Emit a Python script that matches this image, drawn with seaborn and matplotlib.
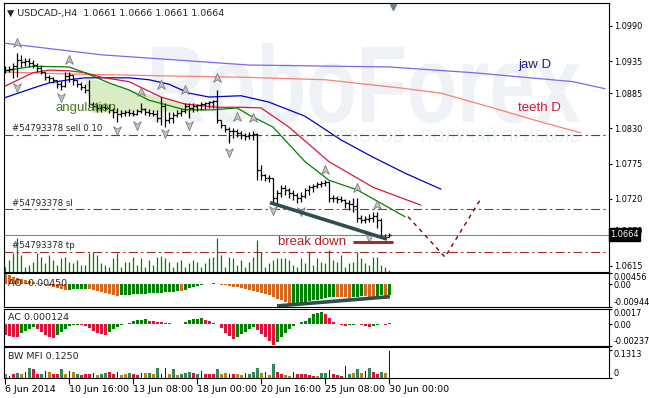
import numpy as np
import matplotlib
matplotlib.use("Agg")
import matplotlib.pyplot as plt
import seaborn as sns
from matplotlib.patches import Polygon, PathPatch
from matplotlib.path import Path
from matplotlib.textpath import TextPath
from matplotlib.font_manager import FontProperties
from matplotlib.transforms import Affine2D, blended_transform_factory

# ---------------- data (USDCAD H4) ----------------
first_open = 1.0924
closes = [1.0921, 1.0923, 1.0927, 1.0937, 1.0934, 1.0935, 1.0932, 1.0929, 1.0924, 1.0918,
          1.0910, 1.0909, 1.0906, 1.0899, 1.0896, 1.0912, 1.0913, 1.0906, 1.0899, 1.0895,
          1.0890, 1.0868, 1.0865, 1.0862, 1.0863, 1.0862, 1.0859, 1.0856, 1.0853, 1.0854,
          1.0856, 1.0854, 1.0853, 1.0857, 1.0860, 1.0856, 1.0854, 1.0853, 1.0846, 1.0865,
          1.0843, 1.0846, 1.0851, 1.0854, 1.0857, 1.0865, 1.0862, 1.0865, 1.0867, 1.0868,
          1.0870, 1.0871, 1.0873, 1.0843, 1.0835, 1.0829, 1.0826, 1.0826, 1.0823, 1.0820,
          1.0818, 1.0820, 1.0821, 1.0765, 1.0757, 1.0753, 1.0753, 1.0721, 1.0729, 1.0737,
          1.0734, 1.0729, 1.0726, 1.0721, 1.0724, 1.0734, 1.0738, 1.0740, 1.0743, 1.0745,
          1.0746, 1.0721, 1.0721, 1.0720, 1.0718, 1.0713, 1.0712, 1.0709, 1.0690, 1.0687,
          1.0688, 1.0690, 1.0693, 1.0687, 1.0661, 1.0661, 1.0664]
highs = [1.0927, 1.0927, 1.0932, 1.0948, 1.0945, 1.0940, 1.0940, 1.0937, 1.0932, 1.0929,
         1.0918, 1.0913, 1.0910, 1.0906, 1.0904, 1.0918, 1.0918, 1.0913, 1.0906, 1.0903,
         1.0899, 1.0906, 1.0871, 1.0870, 1.0868, 1.0870, 1.0868, 1.0862, 1.0862, 1.0859,
         1.0859, 1.0860, 1.0859, 1.0860, 1.0870, 1.0862, 1.0860, 1.0859, 1.0859, 1.0879,
         1.0870, 1.0856, 1.0856, 1.0859, 1.0860, 1.0870, 1.0870, 1.0870, 1.0868, 1.0871,
         1.0871, 1.0873, 1.0874, 1.0890, 1.0843, 1.0835, 1.0832, 1.0831, 1.0829, 1.0826,
         1.0823, 1.0824, 1.0826, 1.0823, 1.0773, 1.0759, 1.0757, 1.0753, 1.0734, 1.0742,
         1.0742, 1.0737, 1.0734, 1.0729, 1.0731, 1.0737, 1.0742, 1.0743, 1.0746, 1.0748,
         1.0749, 1.0748, 1.0726, 1.0724, 1.0724, 1.0720, 1.0718, 1.0721, 1.0721, 1.0695,
         1.0693, 1.0696, 1.0699, 1.0699, 1.0690, 1.0665, 1.0666]
lows = [1.0917, 1.0918, 1.0909, 1.0910, 1.0926, 1.0927, 1.0926, 1.0924, 1.0918, 1.0915,
        1.0906, 1.0903, 1.0901, 1.0893, 1.0890, 1.0895, 1.0903, 1.0898, 1.0895, 1.0890,
        1.0885, 1.0863, 1.0859, 1.0856, 1.0856, 1.0857, 1.0854, 1.0846, 1.0840, 1.0848,
        1.0849, 1.0849, 1.0849, 1.0851, 1.0854, 1.0851, 1.0849, 1.0849, 1.0840, 1.0835,
        1.0832, 1.0838, 1.0838, 1.0848, 1.0849, 1.0854, 1.0846, 1.0856, 1.0857, 1.0859,
        1.0860, 1.0862, 1.0862, 1.0838, 1.0831, 1.0824, 1.0807, 1.0815, 1.0817, 1.0813,
        1.0812, 1.0813, 1.0812, 1.0749, 1.0749, 1.0748, 1.0746, 1.0713, 1.0713, 1.0723,
        1.0726, 1.0721, 1.0718, 1.0713, 1.0715, 1.0721, 1.0726, 1.0731, 1.0737, 1.0738,
        1.0740, 1.0715, 1.0715, 1.0713, 1.0715, 1.0706, 1.0703, 1.0699, 1.0684, 1.0682,
        1.0682, 1.0684, 1.0684, 1.0674, 1.0658, 1.0659, 1.0661]
volumes = [500, 1200, 1900, 3400, 1700, 500, 700, 1000, 1900, 1500,
           900, 1700, 1200, 700, 1400, 1500, 1000, 900, 1200, 700,
           700, 1900, 2000, 1700, 900, 700, 500, 1400, 1900, 500,
           1000, 1000, 1500, 700, 1400, 500, 1200, 700, 1500, 1600,
           1400, 1000, 500, 1000, 1200, 500, 900, 1200, 1000, 500,
           900, 1400, 1500, 3400, 1700, 500, 1500, 1400, 700, 1200,
           500, 1000, 1500, 3200, 2000, 500, 900, 1200, 1400, 1400,
           1400, 1200, 700, 500, 1400, 900, 2000, 700, 1400, 1000,
           900, 2200, 1200, 1000, 1700, 500, 900, 1000, 2000, 1400,
           900, 700, 1500, 1500, 700, 500, 200]

# Alligator (H4) and Alligator (D1) lines: bar index -> value
jaw_idx = [0, 7, 11, 16, 20, 31, 36, 41, 46, 51, 59, 66, 75, 84, 92, 100, 109]
jaw = [1.0878, 1.0893, 1.0901, 1.0906, 1.0909, 1.0909, 1.0906, 1.0899, 1.0885, 1.0879,
       1.0881, 1.0871, 1.0849, 1.0812, 1.0785, 1.0760, 1.0735]
teeth_idx = [0, 7, 11, 16, 20, 24, 31, 39, 45, 53, 59, 64, 71, 81, 92, 104]
teeth = [1.0896, 1.0917, 1.0921, 1.0920, 1.0917, 1.0910, 1.0903, 1.0879, 1.0868, 1.0863,
         1.0863, 1.0862, 1.0832, 1.0778, 1.0738, 1.0710]
lips_idx = [0, 7, 16, 20, 26, 31, 36, 45, 52, 58, 61, 67, 75, 81, 88, 94, 100]
lips = [1.0920, 1.0927, 1.0926, 1.0917, 1.0901, 1.0890, 1.0874, 1.0859, 1.0859, 1.0862,
        1.0851, 1.0832, 1.0778, 1.0749, 1.0734, 1.0713, 1.0692]
jaw_d_idx = [0, 24, 61, 96, 117, 142, 150]
jaw_d = [1.0963, 1.0945, 1.0929, 1.0926, 1.0917, 1.0903, 1.0892]
teeth_d_idx = [0, 16, 40, 59, 80, 99, 109, 122, 134, 144]
teeth_d = [1.0918, 1.0915, 1.0912, 1.0910, 1.0906, 1.0893, 1.0885, 1.0862, 1.0840, 1.0823]

# fractals
frac_up_idx = [3, 16, 34, 39, 45, 53, 58, 62, 80, 88, 93]
frac_up = [1.0963, 1.0937, 1.0887, 1.0898, 1.0890, 1.0909, 1.0848, 1.0846, 1.0765, 1.0737, 1.0710]
frac_dn_idx = [3, 14, 28, 33, 40, 46, 56, 67, 74, 91]
frac_dn = [1.0895, 1.0879, 1.0828, 1.0835, 1.0823, 1.0835, 1.0793, 1.0703, 1.0701, 1.0661]

# order levels
sell_level = 1.0820
sl_level = 1.0704
tp_level = 1.0637
bid = 1.0664

# hand-drawn objects
trend_x = [66.25, 95.5]
trend_y = [1.0714, 1.0657]
break_x = [87, 97]
break_y = [1.06525, 1.06525]
proj_x = [100.75, 110, 118.75]
proj_y = [1.0692, 1.0629, 1.0718]
angul_x = [20, 51.25, 21.75]
angul_y = [1.0910, 1.0857, 1.0854]

# Awesome oscillator
ao = [0.0042, 0.0036, 0.0031, 0.0026, 0.0022, 0.0018, 0.0014, 0.0010, 0.0006, 0.0003,
      -0.0004, -0.0008, -0.0012, -0.0016, -0.0020, -0.0024,
      -0.0023, -0.0022, -0.0021, -0.0020, -0.0019,
      -0.0021, -0.0024, -0.0027, -0.0031, -0.0035, -0.0039, -0.0044, -0.0048,
      -0.0047, -0.0045, -0.0044, -0.0042, -0.0041, -0.0040, -0.0039, -0.0038, -0.0037,
      -0.0036, -0.0035, -0.0034, -0.0032, -0.0031, -0.0029,
      -0.0030,
      -0.0024, -0.0018, -0.0012, -0.0007, -0.0003,
      0.0001, 0.0002, 0.0003,
      0.0002,
      -0.0002, -0.0005, -0.0008, -0.0011, -0.0014, -0.0017, -0.0020, -0.0024, -0.0028,
      -0.0032, -0.0037, -0.0042, -0.0047, -0.0053, -0.0060, -0.0067, -0.0075, -0.0084,
      -0.0082, -0.0079, -0.0076, -0.0073, -0.0070, -0.0067, -0.0064, -0.0061, -0.0058,
      -0.0055, -0.0052,
      -0.0053, -0.0054, -0.0055, -0.0056,
      -0.0054, -0.0052, -0.0050,
      -0.0051, -0.0052, -0.0053,
      -0.0050, -0.0047,
      -0.0048,
      -0.0045]
ao_trend_x = [68, 96.25]
ao_trend_y = [-0.0090, -0.0052]

# Accelerator oscillator
ac = [-0.0012, -0.0013, -0.00135, -0.0014, -0.00095, -0.0007, -0.0005, -0.0003, -0.0005, -0.0008,
      -0.0012, -0.0014, -0.0015, -0.0012, -0.0008, -0.0005, -0.0002, -0.0001, -0.00005, -0.0001,
      -0.0002, -0.0004, -0.0007, -0.0009, -0.0011, -0.00115, -0.0008, -0.0005, -0.0003, -0.0001,
      0.0001, 0.0002, 0.0004, 0.00045, 0.0005, 0.00055, 0.0004, 0.00035, 0.0003, 0.00025,
      0.0002, 0.00015, 0.0001, 0.00005, 0.0000, 0.0003, 0.0005, 0.0006, 0.00065, 0.0007,
      0.0005, 0.0004, 0.0002, 0.0000, -0.0004, -0.0009, -0.0013, -0.0016, -0.0014, -0.0011,
      -0.0008, -0.0005, -0.0003, -0.0006, -0.0010, -0.0014, -0.0018, -0.0023, -0.0019, -0.0014,
      -0.0009, -0.0005, -0.0002, 0.0001, 0.0003, 0.0004, 0.0007, 0.0011, 0.0013, 0.0014,
      0.0011, 0.0007, 0.0003, 0.0001, -0.0001, -0.0002, -0.0001, -0.00005, 0.0000, -0.0001,
      -0.0002, -0.0003, -0.0002, -0.0001, 0.0000, -0.00005, 0.000124]

# Bill Williams market facilitation index (value, colour code)
mfi = [0.017, 0.010, 0.020, 0.023, 0.020, 0.030, 0.045, 0.042, 0.017, 0.020,
       0.033, 0.027, 0.020, 0.020, 0.042, 0.020, 0.033, 0.027, 0.020, 0.013,
       0.020, 0.017, 0.025, 0.013, 0.020, 0.023, 0.027, 0.017, 0.030, 0.013,
       0.017, 0.023, 0.020, 0.013, 0.025, 0.023, 0.023, 0.017, 0.048, 0.020,
       0.045, 0.020, 0.040, 0.013, 0.020, 0.023, 0.027, 0.023, 0.020, 0.033,
       0.020, 0.020, 0.017, 0.040, 0.017, 0.023, 0.020, 0.017, 0.017, 0.013,
       0.023, 0.020, 0.027, 0.048, 0.023, 0.030, 0.013, 0.067, 0.030, 0.020,
       0.013, 0.010, 0.030, 0.020, 0.017, 0.020, 0.013, 0.010, 0.010, 0.023,
       0.023, 0.037, 0.020, 0.013, 0.010, 0.057, 0.017, 0.023, 0.042, 0.023,
       0.033, 0.047, 0.030, 0.020, 0.027, 0.023, 0.125]
mfi_kind = ("kupgbugppg" "ubppgbubgp" "ppubggppub" "bgppubgbgu" "ubgbgggpgu"
            "pppgbbupbb" "ugggbubgpp" "bbupppppbg" "gupppugbgb" "ugppgbu")

date_idx = [0, 16, 32, 48, 64, 80, 96]
date_labels = ["6 Jun 2014", "10 Jun 16:00", "13 Jun 08:00", "18 Jun 00:00",
               "20 Jun 16:00", "25 Jun 08:00", "30 Jun 00:00"]
price_ticks = [1.0990, 1.0935, 1.0885, 1.0830, 1.0775, 1.0720, 1.0670, 1.0615]

# ---------------- styling ----------------
sns.set_theme(style="white")
plt.rcParams['font.family'] = ['DejaVu Sans']
plt.rcParams['axes.linewidth'] = 0.8
plt.rcParams['axes.unicode_minus'] = False

GREEN = '#008000'
ORANGE = '#d2691e'
RED = '#dc143c'
LBL = 5.9
W, H = 649, 398

fig = plt.figure(figsize=(W / 100, H / 100), dpi=100, facecolor='white')


def rect(top, bottom):
    return [4 / W, 1 - bottom / H, 605 / W, (bottom - top) / H]


ax = fig.add_axes(rect(3, 272))
ax_ao = fig.add_axes(rect(273, 307))
ax_ac = fig.add_axes(rect(309, 346))
ax_mfi = fig.add_axes(rect(347, 378))
panels = [ax, ax_ao, ax_ac, ax_mfi]

n = len(closes)
idx = np.arange(n)
opens = [first_open] + closes[:-1]

# watermark
fp = FontProperties(family='Liberation Sans', weight='bold')
tp = TextPath((0, 0), 'RoboForex', size=1, prop=fp)
ext = tp.get_extents()
wm_tr = (Affine2D().translate(-ext.x0, 0).scale(428 / ext.width / W, 79 / ext.y1 / H)
         .translate(152 / W, (H - 122) / H) + fig.transFigure)
ax.add_patch(PathPatch(tp, transform=wm_tr, facecolor='#eef1f5', edgecolor='none', zorder=0.2))
ax.text(580 / W, 1 - 137 / H, "ИСПОЛЬЗУЙ РОБОТОВ – ПОЛУЧАЙ ПРИБЫЛЬ", transform=fig.transFigure,
        ha='right', va='center', fontsize=11, color='#eef1f5', zorder=0.3)

# angulation area
ax.add_patch(Polygon(list(zip(angul_x, angul_y)), closed=True, facecolor='#d9ecc4',
                     edgecolor='none', zorder=0.5))

# volume in the price window
axv = ax.twinx()
axv.vlines(idx, 0, volumes, color=GREEN, lw=0.9)
axv.set_ylim(0, 26900)
axv.set_yticks([])
for s in axv.spines.values():
    s.set_visible(False)

# order lines
ax.axhline(sell_level, color=GREEN, lw=0.8, ls=(0, (8, 3, 2, 3)), zorder=1)
ax.axhline(sl_level, color='#a52a2a', lw=0.8, ls=(0, (8, 3, 2, 3)), zorder=1)
ax.axhline(tp_level, color='#a52a2a', lw=0.8, ls=(0, (8, 3, 2, 3)), zorder=1)
ax.axhline(bid, color='#778899', lw=0.8, zorder=1)

# alligators
sns.lineplot(x=jaw_d_idx, y=jaw_d, ax=ax, color='#7b68ee', lw=0.9, zorder=2)
sns.lineplot(x=teeth_d_idx, y=teeth_d, ax=ax, color='#fa8072', lw=0.9, zorder=2)
sns.lineplot(x=jaw_idx, y=jaw, ax=ax, color='#0000cd', lw=0.9, zorder=2)
sns.lineplot(x=teeth_idx, y=teeth, ax=ax, color='#dc143c', lw=0.9, zorder=2)
sns.lineplot(x=lips_idx, y=lips, ax=ax, color='#008000', lw=0.9, zorder=2)

# OHLC bars
ax.vlines(idx, lows, highs, color='black', lw=0.9, zorder=3)
ax.hlines(opens, idx - 0.5, idx, color='black', lw=0.9, zorder=3)
ax.hlines(closes, idx, idx + 0.5, color='black', lw=0.9, zorder=3)

# fractals
up_arrow = Path([(0, 1), (0.75, -0.75), (0, -0.25), (-0.75, -0.75), (0, 1)],
                [Path.MOVETO, Path.LINETO, Path.LINETO, Path.LINETO, Path.CLOSEPOLY])
dn_arrow = Path([(0, -1), (0.75, 0.75), (0, 0.25), (-0.75, 0.75), (0, -1)],
                [Path.MOVETO, Path.LINETO, Path.LINETO, Path.LINETO, Path.CLOSEPOLY])
ax.scatter(frac_up_idx, frac_up, marker=up_arrow, s=55, facecolor='#c4c4c4',
           edgecolor='#6e6e6e', linewidths=0.5, zorder=4)
ax.scatter(frac_dn_idx, frac_dn, marker=dn_arrow, s=55, facecolor='#c4c4c4',
           edgecolor='#6e6e6e', linewidths=0.5, zorder=4)

# drawn objects
ax.plot(trend_x, trend_y, color='#2f4f4f', lw=2.6, solid_capstyle='butt', zorder=5)
ax.plot(break_x, break_y, color='#a52a2a', lw=2.2, solid_capstyle='butt', zorder=5)
ax.plot(proj_x, proj_y, color='#8b0000', lw=1.0, ls=(0, (3, 3)), zorder=5)

ax.text(68.25, 1.0652, "break down", fontsize=9.5, family='Liberation Sans', color='#b22222',
        ha='left', va='center', zorder=6)
ax.text(12.5, 1.0862, "angulation", fontsize=9.5, family='Liberation Sans', color='#467a1c',
        ha='left', va='center', zorder=6)
ax.text(128.25, 1.0929, "jaw D", fontsize=9.5, family='Liberation Sans', color='#1c1c8c',
        ha='left', va='center', zorder=6)
ax.text(128.25, 1.0862, "teeth D", fontsize=9.5, family='Liberation Sans', color='#dc143c',
        ha='left', va='center', zorder=6)
ax.text(1.75, 1.0830, "#54793378 sell 0.10", fontsize=6.2, ha='left', va='center', zorder=6)
ax.text(1.75, 1.0713, "#54793378 sl", fontsize=6.2, ha='left', va='center', zorder=6)
ax.text(1.75, 1.0647, "#54793378 tp", fontsize=6.2, ha='left', va='center', zorder=6)
ax.text(0.005, 0.963, "▼ USDCAD-,H4  1.0661 1.0666 1.0661 1.0664", transform=ax.transAxes,
        fontsize=6.8, ha='left', va='center', zorder=6)
ax.plot([97], [0.985], marker='v', ms=5, color='#708090',
        transform=blended_transform_factory(ax.transData, ax.transAxes), clip_on=False, zorder=6)

ax.set_ylim(1.06056, 1.10259)
ax.set_yticks(price_ticks)
ax.set_yticklabels([f"{v:.4f}" for v in price_ticks])
ax.text(1.002, bid, f"{bid:.4f}", transform=blended_transform_factory(ax.transAxes, ax.transData),
        ha='left', va='center', fontsize=LBL, color='white', zorder=10,
        bbox=dict(boxstyle='square,pad=0.2', fc='black', ec='black'))

# AO
ao_cols = [ORANGE] + [GREEN if ao[i] > ao[i - 1] else ORANGE for i in range(1, n)]
ax_ao.bar(idx, ao, width=0.75, color=ao_cols, linewidth=0)
ax_ao.plot(ao_trend_x, ao_trend_y, color='#2f4f4f', lw=2.6, solid_capstyle='butt')
ax_ao.set_ylim(-0.00944, 0.00456)
ax_ao.set_yticks([0.00456, 0.0, -0.00944])
ax_ao.set_yticklabels(['0.00456', '0.00', '-0.00944'])
ax_ao.text(0.007, 0.7, "AO -0.00450", transform=ax_ao.transAxes, fontsize=6.8, va='center')

# AC
ac_cols = [RED] + [GREEN if ac[i] > ac[i - 1] else RED for i in range(1, n)]
ax_ac.bar(idx, ac, width=0.75, color=ac_cols, linewidth=0)
ax_ac.set_ylim(-0.00237, 0.0017)
ax_ac.set_yticks([0.0017, 0.0, -0.00237])
ax_ac.set_yticklabels(['0.0017', '0.00', '-0.00237'])
ax_ac.text(0.007, 0.76, "AC 0.000124", transform=ax_ac.transAxes, fontsize=6.8, va='center')

# BW MFI
kind_col = {'k': '#808080', 'u': '#0000ff', 'p': '#dc143c', 'g': '#2e8b57', 'b': '#b8860b'}
mfi_cols = [kind_col[k] for k in mfi_kind]
mfi_w = [0.25 if k == 'u' else 0.75 for k in mfi_kind]
ax_mfi.bar(idx, mfi, width=mfi_w, color=mfi_cols, linewidth=0)
ax_mfi.set_ylim(0, 0.145)
ax_mfi.set_yticks([0.1313, 0.0])
ax_mfi.set_yticklabels(['0.1313', '0'])
ax_mfi.text(0.007, 0.68, "BW MFI 0.1250", transform=ax_mfi.transAxes, fontsize=6.8, va='center')

for a in panels:
    a.set_xlim(-0.25, 151)
    a.set_facecolor('white')
    a.yaxis.tick_right()
    a.tick_params(axis='y', direction='out', length=2.5, width=0.8, pad=0.8,
                  labelsize=LBL, colors='black', right=True, left=False)
    a.tick_params(axis='x', bottom=False, labelbottom=False)
    for s in a.spines.values():
        s.set_color('black')
        s.set_linewidth(0.8)
    a.grid(False)

for a in [ax_ao, ax_ac, ax_mfi]:
    labs = a.get_yticklabels()
    labs[0].set_va('top')
    labs[-1].set_va('bottom')

ax_mfi.set_xticks(date_idx)
ax_mfi.set_xticklabels(date_labels)
ax_mfi.tick_params(axis='x', bottom=True, labelbottom=True, direction='out', length=4,
                   width=0.8, pad=1, labelsize=6.8, colors='black')
for lbl in ax_mfi.get_xticklabels():
    lbl.set_ha('left')

fig.savefig('out.png', dpi=100, facecolor='white')
